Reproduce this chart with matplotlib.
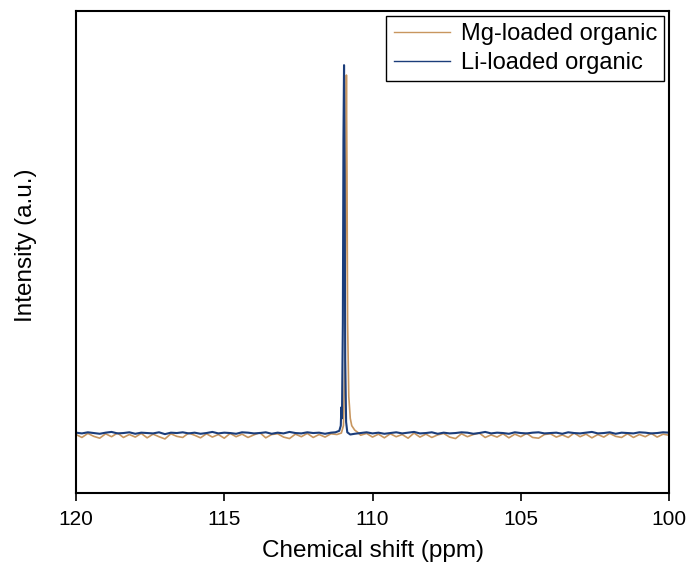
import numpy as np
import matplotlib.pyplot as plt

plt.rcParams['font.family'] = ['Liberation Sans', 'DejaVu Sans']

# baseline sample positions (ppm)
ppm_left = [120.0, 119.8, 119.6, 119.4, 119.2, 119.0, 118.8, 118.6, 118.4, 118.2,
            118.0, 117.8, 117.6, 117.4, 117.2, 117.0, 116.8, 116.6, 116.4, 116.2,
            116.0, 115.8, 115.6, 115.4, 115.2, 115.0, 114.8, 114.6, 114.4, 114.2,
            114.0, 113.8, 113.6, 113.4, 113.2, 113.0, 112.8, 112.6, 112.4, 112.2,
            112.0, 111.8, 111.6, 111.4]
ppm_right = [110.4, 110.2, 110.0, 109.8, 109.6, 109.4, 109.2, 109.0, 108.8, 108.6,
             108.4, 108.2, 108.0, 107.8, 107.6, 107.4, 107.2, 107.0, 106.8, 106.6,
             106.4, 106.2, 106.0, 105.8, 105.6, 105.4, 105.2, 105.0, 104.8, 104.6,
             104.4, 104.2, 104.0, 103.8, 103.6, 103.4, 103.2, 103.0, 102.8, 102.6,
             102.4, 102.2, 102.0, 101.8, 101.6, 101.4, 101.2, 101.0, 100.8, 100.6,
             100.4, 100.2, 100.0]

# Mg-loaded organic
mg_left = [-0.004, -0.012, -0.001, -0.009, -0.014, -0.002, -0.010, 0.000, -0.012, -0.004,
           -0.011, -0.001, -0.013, -0.003, -0.010, -0.016, -0.002, -0.009, -0.012, 0.000,
           -0.006, -0.013, -0.002, -0.011, -0.004, -0.014, -0.001, -0.010, -0.003, -0.012,
           -0.005, 0.001, -0.013, -0.004, -0.002, -0.011, -0.015, -0.003, -0.010, -0.001,
           -0.012, -0.004, -0.011, -0.002]
mg_peak_ppm = [111.2, 111.05, 110.98, 110.93, 110.90, 110.88, 110.86, 110.84, 110.80,
               110.75, 110.70, 110.60, 110.50]
mg_peak_int = [-0.004, 0.000, 0.020, 0.200, 0.700, 0.973, 0.700, 0.300, 0.100,
               0.040, 0.020, 0.008, 0.002]
mg_right = [-0.006, -0.001, -0.011, -0.003, -0.013, -0.002, -0.010, -0.004, -0.014, 0.000,
            -0.011, -0.003, -0.012, -0.005, -0.001, -0.011, -0.015, -0.002, -0.010, -0.004,
            0.000, -0.012, -0.005, -0.011, -0.002, -0.013, -0.003, -0.010, -0.001, -0.012,
            -0.014, -0.004, -0.002, -0.011, -0.005, -0.012, 0.000, -0.010, -0.003, -0.013,
            -0.004, -0.011, -0.001, -0.009, -0.012, -0.002, -0.012, -0.004, -0.010, -0.001,
            -0.011, -0.003, -0.006]

# Li-loaded organic
li_left = [0.001, -0.001, 0.002, 0.000, -0.002, 0.001, 0.003, -0.001, 0.000, 0.002,
           -0.002, 0.001, 0.000, -0.001, 0.002, -0.003, 0.001, 0.000, 0.002, -0.001,
           0.001, -0.002, 0.000, 0.003, -0.001, 0.001, 0.000, -0.002, 0.002, 0.001,
           -0.001, 0.000, 0.002, -0.002, 0.001, -0.001, 0.003, 0.000, -0.001, 0.002,
           0.000, 0.001, -0.002, 0.001]
li_peak_ppm = [111.25, 111.12, 111.07, 111.05, 111.03, 111.00, 110.98, 110.96, 110.94,
               110.92, 110.89, 110.85, 110.75, 110.60]
li_peak_int = [0.002, 0.006, 0.020, 0.070, 0.040, 0.300, 0.800, 1.000, 0.700,
               0.200, 0.030, 0.002, -0.004, -0.002]
li_right = [0.000, 0.002, -0.001, 0.001, -0.002, 0.000, 0.002, -0.001, 0.001, 0.003,
            -0.001, 0.000, 0.002, -0.002, 0.001, -0.001, 0.000, 0.002, 0.001, -0.002,
            0.000, 0.003, -0.001, 0.001, 0.000, -0.002, 0.002, 0.000, -0.001, 0.001,
            0.002, -0.001, 0.000, 0.001, -0.002, 0.002, 0.000, -0.001, 0.001, 0.003,
            -0.001, 0.000, 0.002, -0.002, 0.001, 0.000, -0.001, 0.002, 0.001, -0.001,
            0.000, 0.002, 0.001]

mg_ppm = ppm_left + mg_peak_ppm + ppm_right
mg_int = mg_left + mg_peak_int + mg_right
li_ppm = ppm_left + li_peak_ppm + ppm_right
li_int = li_left + li_peak_int + li_right

fig = plt.figure(figsize=(6.92, 5.71), dpi=100)
ax = fig.add_axes([0.1098, 0.1366, 0.857, 0.844])

ax.plot(mg_ppm, mg_int, color='#c8965f', lw=1.2, label='Mg-loaded organic')
ax.plot(li_ppm, li_int, color='#1b3d7a', lw=1.5, label='Li-loaded organic')

ax.set_xlim(120, 100)
ax.set_ylim(-0.163, 1.147)
ax.set_xticks([120, 115, 110, 105, 100])
ax.set_yticks([])
ax.tick_params(axis='x', direction='out', length=6, width=1.2, labelsize=15, pad=6)
for s in ax.spines.values():
    s.set_linewidth(1.5)

ax.set_xlabel('Chemical shift (ppm)', fontsize=17.5, labelpad=8)
ax.set_ylabel('Intensity (a.u.)', fontsize=17.5)
ax.yaxis.set_label_coords(-0.066, 0.515)

leg = ax.legend(loc='upper right', fontsize=17, fancybox=False, framealpha=1,
                edgecolor='black', borderaxespad=0.2, handlelength=2.4,
                borderpad=0.3, labelspacing=0.3, handletextpad=0.45)
leg.get_frame().set_linewidth(1.0)
for h in leg.get_lines():
    h.set_linewidth(1.0)

fig.savefig('out.png', dpi=100)
